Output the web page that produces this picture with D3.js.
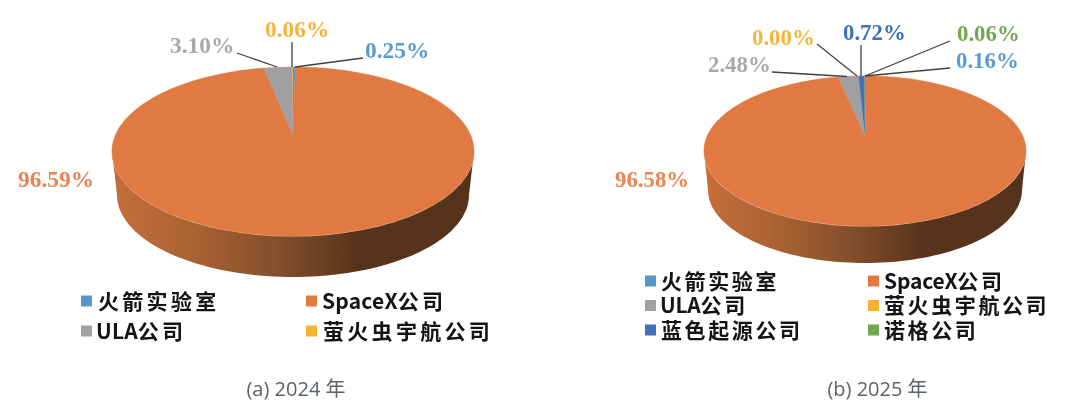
<!DOCTYPE html>
<html><head><meta charset="utf-8">
<script src="https://cdn.jsdelivr.net/npm/d3@7/dist/d3.min.js"></script>
<style>html,body{margin:0;padding:0;background:#fff}svg{display:block;filter:blur(0.35px)}</style></head>
<body><svg id="c" width="1080" height="420"></svg>
<script>
const categories2024 = ["火箭实验室","SpaceX公司","ULA公司","萤火虫宇航公司"];
const values2024 = [0.25,96.59,3.10,0.06];
const categories2025 = ["火箭实验室","SpaceX公司","ULA公司","萤火虫宇航公司","蓝色起源公司","诺格公司"];
const values2025 = [0.16,96.58,2.48,0.00,0.72,0.06];
const colorByName = {"火箭实验室":"#5597cd","SpaceX公司":"#e07a42","ULA公司":"#a0a0a2","萤火虫宇航公司":"#f6b332","蓝色起源公司":"#3f72b8","诺格公司":"#6fa84f"};
const labelColorByName = {"火箭实验室":"#5b9bd0","SpaceX公司":"#ea8451","ULA公司":"#a9a9a9","萤火虫宇航公司":"#f5b53c","蓝色起源公司":"#3f72b8","诺格公司":"#70a850"};

const svg = d3.select("#c");
const defs = svg.append("defs");

function drawPie(o){
  const g = svg.append("g");
  const gid = "side"+o.id;
  const lg = defs.append("linearGradient").attr("id",gid).attr("gradientUnits","userSpaceOnUse")
    .attr("x1",o.cx-o.rx).attr("x2",o.cx+o.rx).attr("y1",0).attr("y2",0);
  [[0,"#c56f3b"],[0.22,"#ab6232"],[0.45,"#85502c"],[0.68,"#57331b"],[1,"#55321a"]].forEach(s=>lg.append("stop").attr("offset",s[0]).attr("stop-color",s[1]));
  const ang = d3.range(0,181,2).map(d=>d*Math.PI/180);
  const low = ang.map(a=>[o.cx+o.brx*Math.cos(a), o.bcy+o.bry*Math.sin(a)]);
  const side = [[o.cx+o.rx,o.cy]].concat(low,[[o.cx-o.rx,o.cy]]);
  const line = d3.line();
  g.append("path").attr("d",line(side)+"Z").attr("fill",`url(#${gid})`);

  const pie = d3.pie().sort(null).value(d=>d.v);
  const arcs = pie(o.cats.map((c,i)=>({c,v:o.vals[i]})));
  // perspective projection of the pie's rim: the far edge is compressed
  const top = o.apexY-(o.cy-o.ry), bot = (o.cy+o.ry)-o.apexY;
  const k = (bot-top)/(bot+top), Y = top*(1+k), X = o.rx*Math.sqrt(1-k*k);
  const pt = a=>{const w=1+k*Math.cos(a);return [o.cx+X*Math.sin(a)/w, o.apexY-Y*Math.cos(a)/w];};
  g.append("ellipse").attr("cx",o.cx).attr("cy",o.cy).attr("rx",o.rx+0.6).attr("ry",o.ry+0.6).attr("fill","#eeb79a");
  arcs.forEach(d=>{
    if(d.endAngle-d.startAngle<=0) return;
    const n = Math.max(2,Math.ceil((d.endAngle-d.startAngle)/0.01));
    const pts = d3.range(n+1).map(i=>pt(d.startAngle+(d.endAngle-d.startAngle)*i/n));
    g.append("path").attr("d",line([[o.cx,o.apexY]].concat(pts))+"Z")
      .attr("fill",colorByName[d.data.c]);
  });
  arcs.forEach((d,i)=>{
    const L = o.labels[i];
    if(L.line) g.append("path").attr("d",line(L.line)).attr("fill","none").attr("stroke","#404040").attr("stroke-width",1.3);
    g.append("text").attr("x",L.x).attr("y",L.y).text(d.data.v.toFixed(2)+"%")
      .attr("font-family","'Liberation Serif'").attr("font-weight","700").attr("font-size",o.fs)
      .attr("fill",labelColorByName[d.data.c]);
  });
  o.cats.forEach((c,i)=>{
    const col=i%2,row=Math.floor(i/2);
    const x=o.legX[col], y=o.legY[row];
    g.append("rect").attr("x",x).attr("y",y-5.5).attr("width",11).attr("height",11).attr("fill",colorByName[c]);
    const t=g.append("text").attr("x",x+o.legDx[i]).attr("y",y+7.5)
      .attr("font-family","'Noto Sans CJK SC'").attr("font-weight","700").attr("font-size",21)
      .attr("fill","#141414");
    c.match(/[A-Za-z]+|[^A-Za-z]+/g).forEach(part=>{
      const latin=/[A-Za-z]/.test(part);
      t.append("tspan").text(part).attr("letter-spacing",latin?o.lsL:o.ls);
    });
  });
  g.append("text").attr("x",o.capX).attr("y",396).attr("text-anchor","middle").text(o.caption)
    .attr("font-family","'Open Sans','Noto Sans CJK SC'").attr("font-size",20).attr("fill","#5c636b");
}

drawPie({id:"a",cx:293,cy:151.5,rx:181,ry:84.5,apexY:135,bcy:195,brx:176,bry:82,
  cats:categories2024,vals:values2024,fs:23.4,
  labels:[{x:365,y:58,line:[[295,67],[363,58]]},{x:18,y:187},{x:170,y:53,line:[[277,67],[237,53]]},{x:265,y:37,line:[[292,67],[292,42]]}],
  legX:[81,306],legY:[301,331],legDx:[17,16,15,17],ls:3.3,lsL:0.2,capX:296,caption:"(a) 2024 年"});
drawPie({id:"b",cx:865,cy:151,rx:161,ry:75,apexY:136,bcy:190,brx:157,bry:73,
  cats:categories2025,vals:values2025,fs:22.8,
  labels:[{x:956,y:68,line:[[865,76],[950,68]]},{x:615,y:187},{x:708,y:72,line:[[847,76.5],[772,72]]},{x:752,y:45,line:[[857,76],[817,44]]},{x:843,y:40,line:[[861,76],[861,45]]},{x:957,y:41,line:[[865,76],[950,41]]}],
  legX:[645,868],legY:[281,305.5,330],legDx:[16,16,15,16,16,16],ls:2.6,lsL:-0.2,capX:877.5,caption:"(b) 2025 年"});
</script></body></html>
